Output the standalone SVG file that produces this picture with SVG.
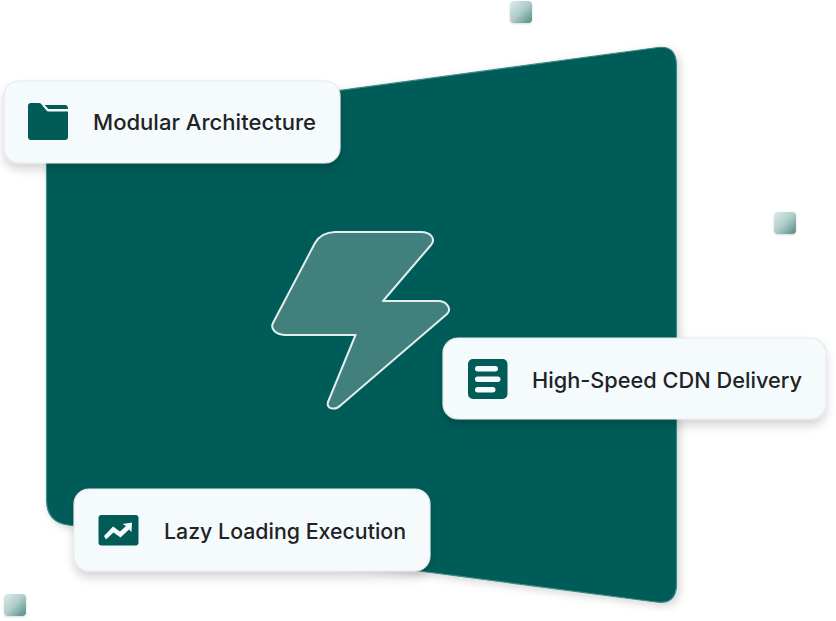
<svg xmlns="http://www.w3.org/2000/svg" width="836" height="621" viewBox="0 0 836 621">
  <style>
    .card { fill: #f5fbfc; stroke: #e6e9e9; stroke-width: 1.2; filter: url(#cardShadow); }
    .icon { fill: #015c58; }
    .glyph { fill: #f5fbfc; }
    .label { font-family: "Inter", "Liberation Sans", sans-serif; font-size: 21.5px; font-weight: 450; fill: #1f2326; }
    .chip { fill: url(#chipGrad); filter: url(#chipShadow); }
  </style>
  <defs>
    <linearGradient id="chipGrad" x1="0" y1="0" x2="1" y2="1">
      <stop offset="0" stop-color="#dfecea"/>
      <stop offset="0.5" stop-color="#aeccc9"/>
      <stop offset="1" stop-color="#4f8b87"/>
    </linearGradient>
    <filter id="cardShadow" x="-10%" y="-30%" width="120%" height="170%">
      <feDropShadow dx="0" dy="6" stdDeviation="5" flood-color="#000" flood-opacity="0.16"/>
    </filter>
    <filter id="panelShadow" x="-10%" y="-10%" width="120%" height="120%">
      <feDropShadow dx="3" dy="3" stdDeviation="4" flood-color="#000" flood-opacity="0.16"/>
    </filter>
    <filter id="chipShadow" x="-30%" y="-30%" width="160%" height="160%">
      <feDropShadow dx="0" dy="1" stdDeviation="1" flood-color="#000" flood-opacity="0.15"/>
    </filter>
  </defs>

  <g id="panel">
    <path d="M46.500 130 L658 47.500 Q676.500 45 676.500 66 L676.500 584 Q676.500 605 656 602 L68 525 Q46.500 522 46.500 500 Z" fill="#015c58" stroke="#3f8a84" stroke-width="1.200" filter="url(#panelShadow)"/>
  </g>

  <g id="bolt">
    <path d="M315 243 Q321 232.500 335 232 L421 232 C431 232 436 239 431 245 L383 301 L438 301 C447 301 452 309 447 314 L341 405 C335 411 326 409 328 402 L355.500 335 L286 335 C276 335 270 329 273 323 Z" fill="#41807c" stroke="#e3eeee" stroke-width="2" stroke-linejoin="round"/>
  </g>

  <g id="chip-top"><rect class="chip" x="510" y="1" width="22" height="22" rx="4"/></g>
  <g id="chip-right"><rect class="chip" x="774" y="212" width="22" height="22" rx="4"/></g>
  <g id="chip-bottom"><rect class="chip" x="4" y="594" width="22" height="22" rx="4"/></g>

  <g id="card-modular">
    <rect class="card" x="4" y="81" width="336" height="82" rx="15"/>
    <path class="icon" d="M28 106 Q28 103 31 103 L39 103 Q41 103 42 105 L46 110 Q47 111.500 49 111.500 L68 111.500 L68 137 Q68 140 65 140 L31 140 Q28 140 28 137 Z"/>
    <path class="icon" d="M44.500 105 L65 105 Q68 105 68 109 L48.500 109 Z"/>
    <text class="label" x="93" y="129.500" textLength="223" lengthAdjust="spacingAndGlyphs">Modular Architecture</text>
  </g>

  <g id="card-cdn">
    <rect class="card" x="443" y="338" width="383" height="81" rx="15"/>
    <rect class="icon" x="468" y="359" width="39.500" height="40" rx="5"/>
    <rect class="glyph" x="475" y="366" width="23" height="5.500" rx="2.700"/>
    <rect class="glyph" x="475" y="376.500" width="25.500" height="5.500" rx="2.700"/>
    <rect class="glyph" x="475" y="387" width="20.500" height="5.500" rx="2.700"/>
    <text class="label" x="532" y="387.500" textLength="270" lengthAdjust="spacingAndGlyphs">High-Speed CDN Delivery</text>
  </g>

  <g id="card-lazy">
    <rect class="card" x="74" y="489" width="356" height="82" rx="15"/>
    <rect class="icon" x="98.500" y="515" width="40" height="30.500" rx="3"/>
    <path class="glyph" d="M104 536 L113 526.500 L120 531.500 L126 526 L122.500 524 L132 522.500 L131.500 532 L129 529.500 L120.500 537.500 L113.500 532.500 L106 539.500 Z"/>
    <text class="label" x="164" y="538.500" textLength="242" lengthAdjust="spacingAndGlyphs">Lazy Loading Execution</text>
  </g>
</svg>
